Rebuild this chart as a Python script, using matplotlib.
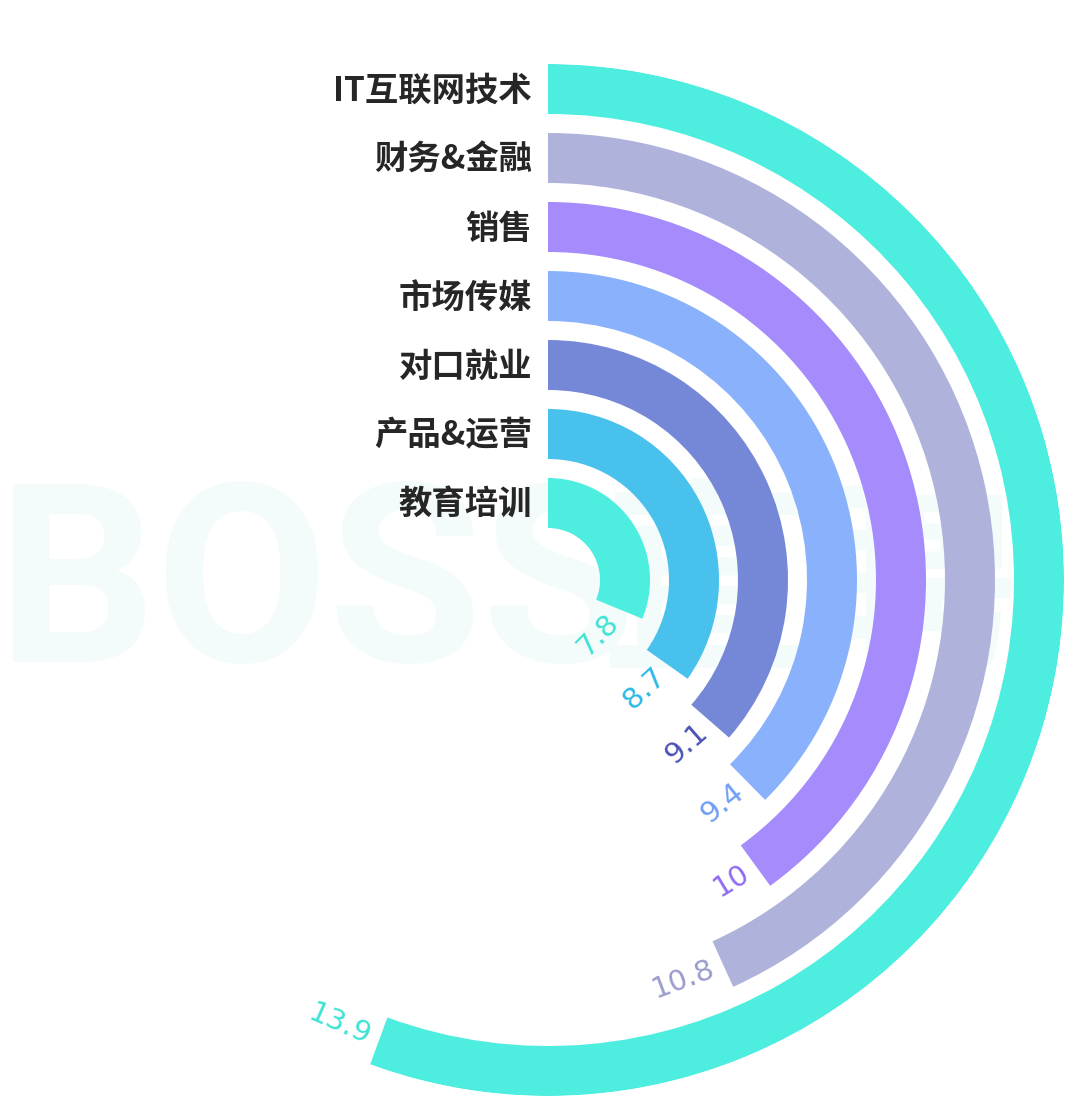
import numpy as np
import matplotlib
matplotlib.use("Agg")
import matplotlib.pyplot as plt

# ---- data ----
categories = ["IT互联网技术", "财务&金融", "销售", "市场传媒", "对口就业", "产品&运营", "教育培训"]
values = [13.9, 10.8, 10.0, 9.4, 9.1, 8.7, 7.8]
value_labels = ["13.9", "10.8", "10", "9.4", "9.1", "8.7", "7.8"]
full_circle = 25.0

bar_colors = ["#4DEEE0", "#AFB2DA", "#A58BFB", "#8AB1FB", "#7587D7", "#48C1EC", "#4DEEE0"]
label_colors = ["#3DE3D4", "#9A9DCB", "#8E6BF5", "#6F9DF5", "#4A52B6", "#2EB8E8", "#3DE3D4"]

W, H = 1080, 1109
fig = plt.figure(figsize=(W / 100, H / 100), dpi=100)
fig.patch.set_facecolor("white")

# watermark (behind everything)
wm = fig.add_axes([0, 0, 1, 1], zorder=-5)
wm.axis("off")
wm.set_xlim(0, W)
wm.set_ylim(H, 0)
wm.text(-4, 594, "BOSS", fontsize=180, fontweight="bold", family=["Roboto", "DejaVu Sans"],
        color="#F4FBFB", ha="left", va="center")
wm.text(600, 594, "直聘", fontsize=150, fontweight="bold", family=["Noto Sans CJK SC"],
        color="#F4FBFB", ha="left", va="center")

cx, cy, R = 548, 580, 516
ax = fig.add_axes([(cx - R) / W, (H - cy - R) / H, 2 * R / W, 2 * R / H], projection="polar", zorder=1)
ax.set_theta_zero_location("N")
ax.set_theta_direction(-1)
ax.set_ylim(0, R)
ax.axis("off")
ax.patch.set_alpha(0)

n = len(categories)
step, bw, r0 = 69, 50, 52
for i, (cat, v, lab) in enumerate(zip(categories, values, value_labels)):
    k = n - 1 - i
    bottom = r0 + step * k
    width = v / full_circle * 2 * np.pi
    ax.bar(0, bw, width=width, bottom=bottom, align="edge", color=bar_colors[i], edgecolor="none")
    rmid = bottom + bw / 2
    # category label
    ax.annotate(cat, xy=(0, rmid), xytext=(-16, -2), textcoords="offset pixels",
                ha="right", va="center", fontsize=24, fontweight="bold",
                family=["Noto Sans CJK SC", "DejaVu Sans"], color="#262626")
    # value label
    th_anchor = width + 10.0 / rmid
    th_center = width + 30.0 / rmid
    rot = 180 - np.degrees(th_center)
    ax.text(th_anchor, rmid, lab, ha="right", va="center", rotation=rot, rotation_mode="anchor",
            fontsize=21, family=["DejaVu Sans"], color=label_colors[i])

fig.savefig("out.png", dpi=100, facecolor="white")
